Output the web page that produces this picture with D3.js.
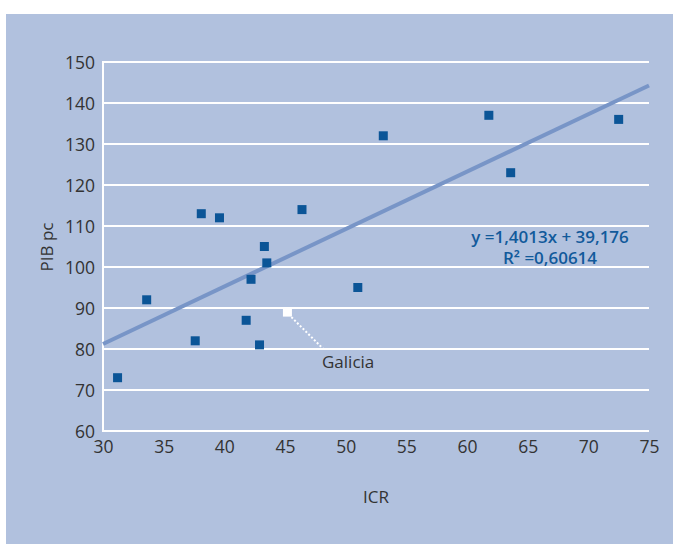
<!DOCTYPE html>
<html><head><meta charset="utf-8">
<script src="https://cdn.jsdelivr.net/npm/d3@7"></script>
<style>body{margin:0;background:#fff}svg{display:block}text{font-family:"Open Sans","Noto Sans",sans-serif}</style>
</head><body>
<svg id="c" width="673" height="547"></svg>
<script>
const icr = [31.2, 33.6, 37.6, 38.1, 39.6, 41.8, 42.2, 42.9, 43.3, 43.5, 46.4, 51.0, 53.1, 61.8, 63.6, 72.5];
const pib = [73, 92, 82, 113, 112, 87, 97, 81, 105, 101, 114, 95, 132, 137, 123, 136];
const galicia = {icr: 45.2, pib: 89, label: "Galicia"};
const xTicks = [30, 35, 40, 45, 50, 55, 60, 65, 70, 75];
const yTicks = [60, 70, 80, 90, 100, 110, 120, 130, 140, 150];
const slope = 1.4013, intercept = 39.176;
const eqLines = ["y =1,4013x + 39,176", "R² =0,60614"];

const svg = d3.select("#c");
svg.append("rect").attr("x",6).attr("y",14).attr("width",667).attr("height",530).attr("fill","#b1c1de");
const x = d3.scaleLinear().domain([30,75]).range([103,649]);
const y = d3.scaleLinear().domain([60,150]).range([431,62]);

// gridlines
svg.append("g").selectAll("line").data(yTicks).join("line")
  .attr("x1",103).attr("x2",649).attr("y1",d=>y(d)).attr("y2",d=>y(d))
  .attr("stroke","#fff").attr("stroke-width",2);
svg.append("line").attr("x1",103).attr("x2",103).attr("y1",61).attr("y2",432).attr("stroke","#fff").attr("stroke-width",2);

// axes labels
const ya = svg.append("g").attr("transform","translate(95,0)")
  .call(d3.axisLeft(y).tickValues(yTicks).tickSize(0).tickPadding(0));
ya.select(".domain").remove();
ya.selectAll("text").attr("font-size",17.5).attr("fill","#333").attr("dy","0.35em");
const xa = svg.append("g").attr("transform","translate(0,441)")
  .call(d3.axisBottom(x).tickValues(xTicks).tickSize(0).tickPadding(0));
xa.select(".domain").remove();
xa.selectAll("text").attr("font-size",17.5).attr("fill","#333").attr("dy","0.71em");

svg.append("text").attr("x",376).attr("y",503).attr("text-anchor","middle").attr("font-size",17).attr("fill","#333").text("ICR");
svg.append("text").attr("transform","translate(53,247) rotate(-90)").attr("text-anchor","middle").attr("font-size",17).attr("fill","#333").text("PIB pc");

// trend line
svg.append("line").attr("x1",x(30)).attr("y1",y(slope*30+intercept)).attr("x2",x(75)).attr("y2",y(slope*75+intercept))
  .attr("stroke","#7895c7").attr("stroke-width",4);

// points
svg.append("g").selectAll("rect").data(icr).join("rect")
  .attr("x",(d)=>x(d)-4.5).attr("y",(d,i)=>y(pib[i])-4.5).attr("width",9).attr("height",9).attr("fill","#0b5597");

// galicia
svg.append("line").attr("x1",x(galicia.icr)+4).attr("y1",y(galicia.pib)+5).attr("x2",x(galicia.icr)+36).attr("y2",y(galicia.pib)+37)
  .attr("stroke","#fff").attr("stroke-width",2).attr("stroke-dasharray","2,2");
svg.append("rect").attr("x",x(galicia.icr)-4.5).attr("y",y(galicia.pib)-4.5).attr("width",9).attr("height",9).attr("fill","#fff");
svg.append("text").attr("x",322).attr("y",368).attr("font-size",17).attr("fill","#333").text(galicia.label);

// equation
svg.append("g").selectAll("text").data(eqLines).join("text")
  .attr("x",550).attr("y",(d,i)=>243+i*21).attr("text-anchor","middle").attr("font-size",17).attr("font-weight",600)
  .attr("fill","#115a9b").text(d=>d);
</script>
</body></html>
